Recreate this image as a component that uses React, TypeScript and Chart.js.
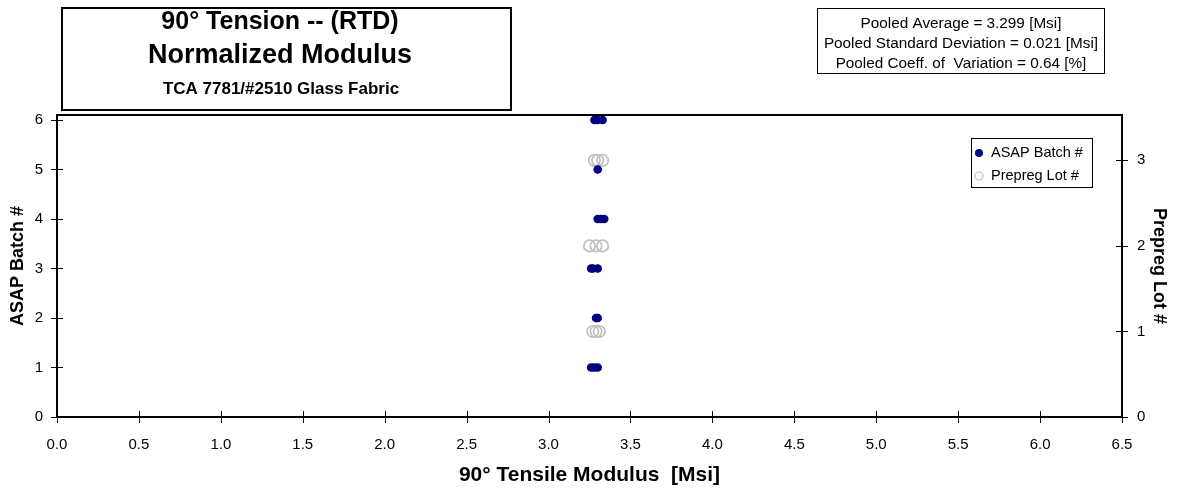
import React, { useEffect, useRef } from "react";
import { Chart, registerables } from "chart.js";

Chart.register(...registerables);

const FONT = "'Liberation Sans', Arial, Helvetica, sans-serif";

// ASAP batch data: tensile modulus [Msi] and batch number
const asapModulus = [3.26, 3.28, 3.30, 3.29, 3.30, 3.26, 3.27, 3.30, 3.30, 3.32, 3.34, 3.30, 3.28, 3.30, 3.33];
const asapBatch = [1, 1, 1, 2, 2, 3, 3, 3, 4, 4, 4, 5, 6, 6, 6];

// Prepreg lot data: tensile modulus [Msi] and lot number
const lotModulus = [3.27, 3.29, 3.31, 3.25, 3.29, 3.33, 3.28, 3.30, 3.33];
const lotNumber = [1, 1, 1, 2, 2, 2, 3, 3, 3];

// tick values
const xTicks = [0, 0.5, 1, 1.5, 2, 2.5, 3, 3.5, 4, 4.5, 5, 5.5, 6, 6.5];
const yLeftTicks = [0, 1, 2, 3, 4, 5, 6];
const yRightTicks = [0, 1, 2, 3];

const seriesLabels = ["ASAP Batch #", "Prepreg Lot #"];
const titleLines = ["90° Tension -- (RTD)", "Normalized Modulus", "TCA 7781/#2510 Glass Fabric"];
const statsLines = [
  "Pooled Average = 3.299 [Msi]",
  "Pooled Standard Deviation = 0.021 [Msi]",
  "Pooled Coeff. of  Variation = 0.64 [%]",
];
const xAxisTitle = "90° Tensile Modulus  [Msi]";
const yLeftTitle = "ASAP Batch #";
const yRightTitle = "Prepreg Lot #";

const NAVY = "#000080";
const GRAY = "#C0C0C0";

const decorPlugin = {
  id: "decor",
  afterDraw(chart: any) {
    const { ctx, chartArea: a, scales } = chart;
    ctx.save();
    // top frame line
    ctx.strokeStyle = "#000";
    ctx.lineWidth = 2;
    ctx.beginPath();
    ctx.moveTo(a.left - 1, a.top);
    ctx.lineTo(a.right + 1, a.top);
    ctx.stroke();

    // crossing tick marks
    ctx.lineWidth = 1;
    ctx.beginPath();
    const xs = scales.x;
    xs.ticks.forEach((t: any) => {
      const px = Math.round(xs.getPixelForValue(t.value)) + 0.5;
      ctx.moveTo(px, a.bottom - 6);
      ctx.lineTo(px, a.bottom + 6);
    });
    const yl = scales.y;
    yl.ticks.forEach((t: any) => {
      const py = Math.round(yl.getPixelForValue(t.value)) + 0.5;
      ctx.moveTo(a.left - 6, py);
      ctx.lineTo(a.left + 6, py);
    });
    const yr = scales.y2;
    yr.ticks.forEach((t: any) => {
      const py = Math.round(yr.getPixelForValue(t.value)) + 0.5;
      ctx.moveTo(a.right - 6, py);
      ctx.lineTo(a.right + 6, py);
    });
    ctx.stroke();

    // title box
    ctx.lineWidth = 2;
    ctx.strokeRect(62, 8, 449, 102);
    ctx.fillStyle = "#000";
    ctx.textAlign = "center";
    ctx.textBaseline = "alphabetic";
    ctx.font = `bold 25px ${FONT}`;
    ctx.fillText(titleLines[0], 280, 29);
    ctx.font = `bold 27px ${FONT}`;
    ctx.fillText(titleLines[1], 280, 63);
    ctx.font = `bold 17px ${FONT}`;
    ctx.fillText(titleLines[2], 281, 94);

    // stats box
    ctx.lineWidth = 1;
    ctx.strokeRect(817.5, 8.5, 287, 65);
    ctx.font = `15.3px ${FONT}`;
    statsLines.forEach((s, i) => ctx.fillText(s, 961, 28 + i * 20));

    // legend box
    ctx.strokeRect(971.5, 138.5, 121, 49);
    ctx.textAlign = "left";
    ctx.textBaseline = "middle";
    ctx.font = `14.5px ${FONT}`;
    ctx.fillStyle = NAVY;
    ctx.beginPath();
    ctx.arc(979, 153, 4, 0, Math.PI * 2);
    ctx.fill();
    ctx.strokeStyle = GRAY;
    ctx.lineWidth = 1.2;
    ctx.beginPath();
    ctx.arc(979, 176, 4, 0, Math.PI * 2);
    ctx.stroke();
    ctx.fillStyle = "#000";
    ctx.fillText(seriesLabels[0], 991, 153);
    ctx.fillText(seriesLabels[1], 991, 176);
    ctx.restore();
  },
};

const setTicks = (vals: number[]) => (s: any) => {
  s.ticks = vals.map((v) => ({ value: v }));
};

export default function App() {
  const ref = useRef<HTMLCanvasElement | null>(null);
  useEffect(() => {
    if (!ref.current) return;
    Chart.defaults.font.family = FONT;
    const chart = new Chart(ref.current, {
      type: "scatter",
      data: {
        datasets: [
          {
            label: seriesLabels[0],
            data: asapModulus.map((v, i) => ({ x: v, y: asapBatch[i] })),
            yAxisID: "y",
            pointStyle: "circle",
            pointRadius: 4.3,
            pointBackgroundColor: NAVY,
            pointBorderColor: NAVY,
            pointBorderWidth: 0,
          },
          {
            label: seriesLabels[1],
            data: lotModulus.map((v, i) => ({ x: v, y: lotNumber[i] })),
            yAxisID: "y2",
            pointStyle: "circle",
            pointRadius: 5.7,
            pointBackgroundColor: "rgba(0,0,0,0)",
            pointBorderColor: GRAY,
            pointBorderWidth: 1.7,
          },
        ],
      },
      options: {
        responsive: false,
        animation: false,
        devicePixelRatio: 1,
        layout: { padding: { top: 115, left: 0, right: 0, bottom: 0 } },
        plugins: { legend: { display: false }, tooltip: { enabled: false } },
        scales: {
          x: {
            type: "linear",
            position: "bottom",
            min: 0,
            max: 6.5,
            afterFit: (s: any) => {
              s.height = 73;
            },
            afterBuildTicks: setTicks(xTicks),
            ticks: {
              padding: 11,
              color: "#000",
              font: { size: 15, family: FONT },
              callback: (v: any) => Number(v).toFixed(1),
              maxRotation: 0,
              autoSkip: false,
            },
            grid: { display: false },
            border: { display: true, color: "#000", width: 2 },
            title: {
              display: true,
              text: xAxisTitle,
              color: "#000",
              font: { size: 21, weight: "bold", family: FONT },
              padding: { top: 0, bottom: 2.4 },
            },
          },
          y: {
            type: "linear",
            position: "left",
            min: 0,
            max: 6.1,
            afterFit: (s: any) => {
              s.width = 57;
            },
            afterBuildTicks: setTicks(yLeftTicks),
            ticks: {
              padding: 6,
              color: "#000",
              font: { size: 15, family: FONT },
            },
            grid: { display: false },
            border: { display: true, color: "#000", width: 2 },
            title: {
              display: true,
              text: yLeftTitle,
              color: "#000",
              font: { size: 18, weight: "bold", family: FONT },
              padding: { top: 7.2, bottom: 0 },
            },
          },
          y2: {
            type: "linear",
            position: "right",
            min: 0,
            max: 3.53,
            afterFit: (s: any) => {
              s.width = 64;
            },
            afterBuildTicks: setTicks(yRightTicks),
            ticks: {
              padding: 7,
              color: "#000",
              font: { size: 15, family: FONT },
            },
            grid: { display: false },
            border: { display: true, color: "#000", width: 2 },
            title: {
              display: true,
              text: yRightTitle,
              color: "#000",
              font: { size: 18, weight: "bold", family: FONT },
              padding: { top: 16.2, bottom: 0 },
            },
          },
        },
      },
      plugins: [decorPlugin],
    } as any);
    return () => chart.destroy();
  }, []);

  return (
    <div style={{ position: "fixed", left: 0, top: 0, width: 1186, height: 490, background: "#fff" }}>
      <canvas ref={ref} width={1186} height={490} style={{ display: "block" }} />
    </div>
  );
}
